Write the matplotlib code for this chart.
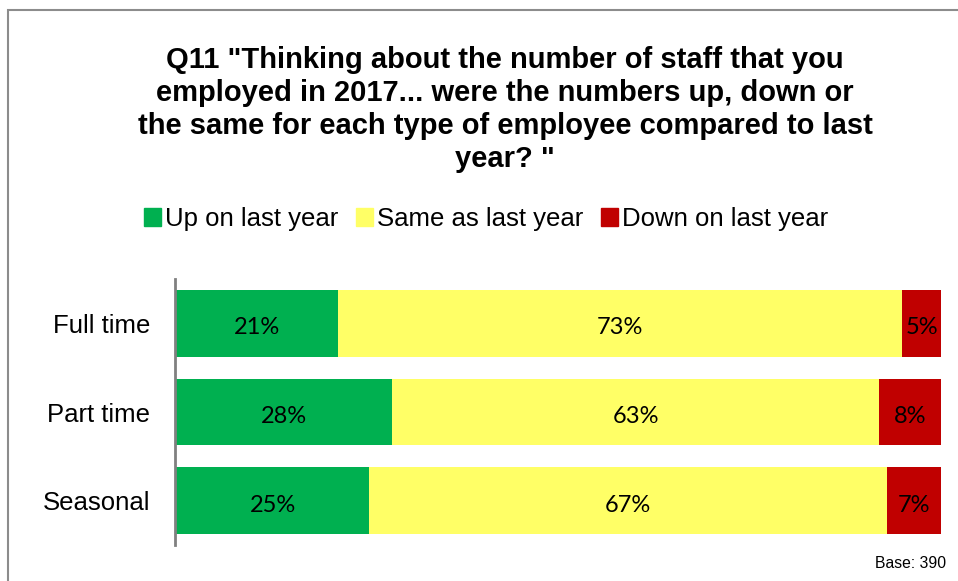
import numpy as np
import matplotlib.pyplot as plt
from matplotlib.patches import Rectangle, Patch

categories = ['Full time', 'Part time', 'Seasonal']
up = [21, 28, 25]
same = [73, 63, 67]
down = [5, 8, 7]
series_names = ['Up on last year', 'Same as last year', 'Down on last year']
colors = ['#00B050', '#FFFF66', '#C00000']

title = ('Q11 "Thinking about the number of staff that you\n'
         'employed in 2017... were the numbers up, down or\n'
         'the same for each type of employee compared to last\n'
         'year? "')

W, H = 958, 581
plt.rcParams['font.family'] = ['Liberation Sans', 'DejaVu Sans']
fig = plt.figure(figsize=(W / 100, H / 100), dpi=100)

# outer frame
fig.patches.append(Rectangle((8 / W, -0.1), 1.2, (H - 10) / H + 0.1,
                             transform=fig.transFigure, fill=False,
                             edgecolor='#8c8c8c', linewidth=1.5))

ax = fig.add_axes([176 / W, 36 / H, 765 / W, 266 / H])

y = np.arange(len(categories))
left = np.zeros(len(categories))
for vals, name, c in zip([up, same, down], series_names, colors):
    bars = ax.barh(y, vals, left=left, height=0.75, color=c, label=name)
    for b, v in zip(bars, vals):
        ax.text(b.get_x() + b.get_width() / 2, b.get_y() + b.get_height() / 2 + 0.05,
                f'{v}%', ha='center', va='center', fontsize=17,
                family=['Lato', 'DejaVu Sans'], color='black')
    left += np.array(vals)

ax.set_xlim(0, 99)
ax.set_ylim(len(categories) - 0.5, -0.5)
ax.set_yticks(y)
ax.set_yticklabels(categories)
ax.set_xticks([])
ax.tick_params(axis='y', length=0, pad=17.5, labelsize=18.5)
for s in ['top', 'right', 'bottom']:
    ax.spines[s].set_visible(False)
ax.spines['left'].set_color('#808080')
ax.spines['left'].set_linewidth(2)
ax.spines['left'].set_position(('outward', 1))

fig.text(505 / W, 1 - 46 / H, title, ha='center', va='top', fontsize=21,
         fontweight='bold', linespacing=1.22)

handles = [Patch(color=c) for c in colors]
fig.legend(handles, series_names, loc='center', bbox_to_anchor=(486 / W, 1 - 219 / H),
           ncol=3, frameon=False, fontsize=18.5, handlelength=0.65, handleheight=0.65,
           handletextpad=0.15, columnspacing=0.7, borderpad=0)

fig.text(946 / W, 1 - 564 / H, 'Base: 390', ha='right', va='center', fontsize=11.3)

fig.savefig('out.png', dpi=100)
